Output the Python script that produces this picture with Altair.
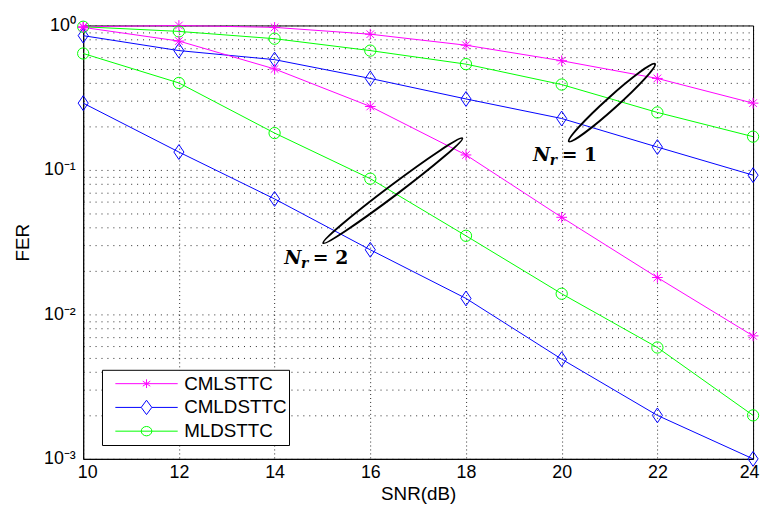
import altair as alt
import pandas as pd

# ---------------- data ----------------
snr = [10, 12, 14, 16, 18, 20, 22, 24]
series_names = ["CMLSTTC", "CMLDSTTC", "MLDSTTC"]

# Nr = 1
cmlsttc_nr1 = [0.98, 1.0, 0.97, 0.87, 0.73, 0.57, 0.43, 0.29]
cmldsttc_nr1 = [0.85, 0.67, 0.58, 0.43, 0.31, 0.227, 0.144, 0.092]
mldsttc_nr1 = [0.98, 0.91, 0.81, 0.67, 0.54, 0.39, 0.25, 0.17]
# Nr = 2
cmlsttc_nr2 = [0.97, 0.78, 0.50, 0.275, 0.127, 0.047, 0.018, 0.0071]
cmldsttc_nr2 = [0.29, 0.133, 0.063, 0.028, 0.0129, 0.0049, 0.0020, 0.00100]
mldsttc_nr2 = [0.64, 0.40, 0.18, 0.087, 0.035, 0.0139, 0.0059, 0.0020]

y_ticks = [0.001, 0.002, 0.003, 0.004, 0.005, 0.006, 0.007, 0.008, 0.009,
           0.01, 0.02, 0.03, 0.04, 0.05, 0.06, 0.07, 0.08, 0.09,
           0.1, 0.2, 0.3, 0.4, 0.5, 0.6, 0.7, 0.8, 0.9, 1.0]

# annotations: ellipse centres (SNR, FER) and label anchors
ellipse1_center = [21.05, 0.292]
ellipse2_center = [16.47, 0.0718]
label1_anchor = [19.40, 0.115]
label2_anchor = [14.20, 0.0223]
label1_text = "= 1"
label2_text = "= 2"

rows = []
for name, nr, vals in [
    ("CMLSTTC", 1, cmlsttc_nr1), ("CMLDSTTC", 1, cmldsttc_nr1), ("MLDSTTC", 1, mldsttc_nr1),
    ("CMLSTTC", 2, cmlsttc_nr2), ("CMLDSTTC", 2, cmldsttc_nr2), ("MLDSTTC", 2, mldsttc_nr2),
]:
    for s, v in zip(snr, vals):
        rows.append({"snr": s, "fer": v, "series": name, "group": f"{name}-{nr}"})
df = pd.DataFrame(rows)

colors = ["#ff00ff", "#0000ff", "#00ff00"]

star = "M0,-0.9L0,0.9M-0.9,0L0.9,0M-0.64,-0.64L0.64,0.64M-0.64,0.64L0.64,-0.64"
diamond = "M0,-1.25L0.85,0L0,1.25L-0.85,0Z"
circle = "M-0.95,0A0.95,0.95,0,1,0,0.95,0A0.95,0.95,0,1,0,-0.95,0Z"

leg_star = "M-1,0L1,0M0,-0.14L0,0.14M-0.12,-0.08L0.12,0.08M-0.12,0.08L0.12,-0.08"
leg_diamond = "M-1,0L-0.17,0M0.17,0L1,0M0,-0.23L0.17,0L0,0.23L-0.17,0Z"
leg_circle = "M-1,0L1,0M-0.17,0A0.17,0.15,0,1,0,0.17,0A0.17,0.15,0,1,0,-0.17,0Z"

ell1 = "M-1,0A1,0.1,0,1,0,1,0A1,0.1,0,1,0,-1,0Z"
ell2 = "M-1,0A1,0.06,0,1,0,1,0A1,0.06,0,1,0,-1,0Z"

# ---------------- encodings ----------------
x_enc = alt.X(
    "snr:Q",
    scale=alt.Scale(domain=[10, 24], nice=False),
    axis=alt.Axis(values=snr, grid=True, gridDash=[1, 3], gridColor="#000000",
                  gridOpacity=0.85, ticks=False, labelPadding=5, titlePadding=3,
                  labelFlush=True, labelFlushOffset=6, titleFontSize=19),
    title="SNR(dB)",
)
y_label_expr = (
    "abs(log(datum.value)/LN10 - round(log(datum.value)/LN10)) > 1e-6 ? '' : "
    "round(log(datum.value)/LN10) == 0 ? '10\u2070' : "
    "round(log(datum.value)/LN10) == -1 ? '10\u207b\u00b9' : "
    "round(log(datum.value)/LN10) == -2 ? '10\u207b\u00b2' : '10\u207b\u00b3'"
)
y_enc = alt.Y(
    "fer:Q",
    scale=alt.Scale(type="log", domain=[0.001, 1], nice=False),
    axis=alt.Axis(values=y_ticks, labelExpr=y_label_expr, grid=True, gridDash=[1, 5],
                  gridColor="#000000", gridOpacity=0.85, ticks=False, labelPadding=8,
                  titlePadding=11, labelFlush=False, titleFontSize=19),
    title="FER",
)

base = alt.Chart(df)

lines = base.mark_line(strokeWidth=1, clip=False).encode(
    x=x_enc, y=y_enc,
    color=alt.Color("series:N", scale=alt.Scale(domain=series_names, range=colors), legend=None),
    detail="group:N",
)

points = base.mark_point(filled=False, strokeWidth=1, size=144, opacity=1).encode(
    x=x_enc, y=y_enc,
    color=alt.Color("series:N", scale=alt.Scale(domain=series_names, range=colors), legend=None),
    shape=alt.Shape("series:N", scale=alt.Scale(domain=series_names, range=[star, diamond, circle]),
                    legend=None),
)

legend_layer = base.transform_filter("datum.snr < 0").mark_point(
    filled=False, strokeWidth=1, opacity=1
).encode(
    x=x_enc, y=y_enc,
    color=alt.Color("series:N", scale=alt.Scale(domain=series_names, range=colors),
                    legend=alt.Legend(title=None, labelExpr="datum.label + '\u00a0'")),
    shape=alt.Shape("series:N",
                    scale=alt.Scale(domain=series_names, range=[leg_star, leg_diamond, leg_circle]),
                    legend=alt.Legend(title=None, labelExpr="datum.label + '\u00a0'")),
)

ann = pd.DataFrame({
    "snr": [ellipse1_center[0], ellipse2_center[0]],
    "fer": [ellipse1_center[1], ellipse2_center[1]],
})
e1 = alt.Chart(ann.iloc[[0]]).mark_point(
    shape=ell1, size=13689, angle=318, strokeWidth=2, color="black", filled=False, opacity=1
).encode(x=x_enc, y=y_enc)
e2 = alt.Chart(ann.iloc[[1]]).mark_point(
    shape=ell2, size=30976, angle=323, strokeWidth=2, color="black", filled=False, opacity=1
).encode(x=x_enc, y=y_enc)

lab = pd.DataFrame({
    "snr": [label1_anchor[0], label2_anchor[0]],
    "fer": [label1_anchor[1], label2_anchor[1]],
    "txt": [label1_text, label2_text],
})
lab_n = alt.Chart(lab).mark_text(
    text="N", font="DejaVu Serif", fontStyle="italic", fontWeight="bold", fontSize=19,
    align="left", baseline="alphabetic", color="black"
).encode(x=x_enc, y=y_enc)
lab_r = alt.Chart(lab).mark_text(
    text="r", font="DejaVu Serif", fontStyle="italic", fontWeight="bold", fontSize=14,
    align="left", baseline="alphabetic", dx=17, dy=4, color="black"
).encode(x=x_enc, y=y_enc)
lab_eq = alt.Chart(lab).mark_text(
    font="DejaVu Serif", fontWeight="bold", fontSize=19,
    align="left", baseline="alphabetic", dx=29, color="black"
).encode(x=x_enc, y=y_enc, text="txt:N")

chart = alt.layer(lines, points, e1, e2, lab_n, lab_r, lab_eq, legend_layer).resolve_scale(
    color="independent", shape="independent"
).properties(
    width=677, height=438,
    autosize=alt.AutoSizeParams(type="none"),
    padding={"left": 76, "top": 15, "right": 7, "bottom": 47},
).configure(
    font="Liberation Sans",
).configure_view(
    stroke="black", strokeWidth=1,
).configure_axis(
    domainColor="black", labelColor="black", titleColor="black",
    labelFontSize=18, titleFontWeight="normal",
    labelFont="Liberation Sans", titleFont="Liberation Sans",
).configure_legend(
    orient="none", legendX=19, legendY=348, padding=2,
    strokeColor="black", fillColor="white", cornerRadius=0,
    symbolSize=3969, clipHeight=24, rowPadding=0, symbolOffset=11,
    symbolStrokeWidth=1, labelFontSize=19, labelFont="Liberation Sans",
    labelColor="black", labelOffset=6,
)

chart.save("out.html", embed_options={"renderer": "svg", "actions": False})
